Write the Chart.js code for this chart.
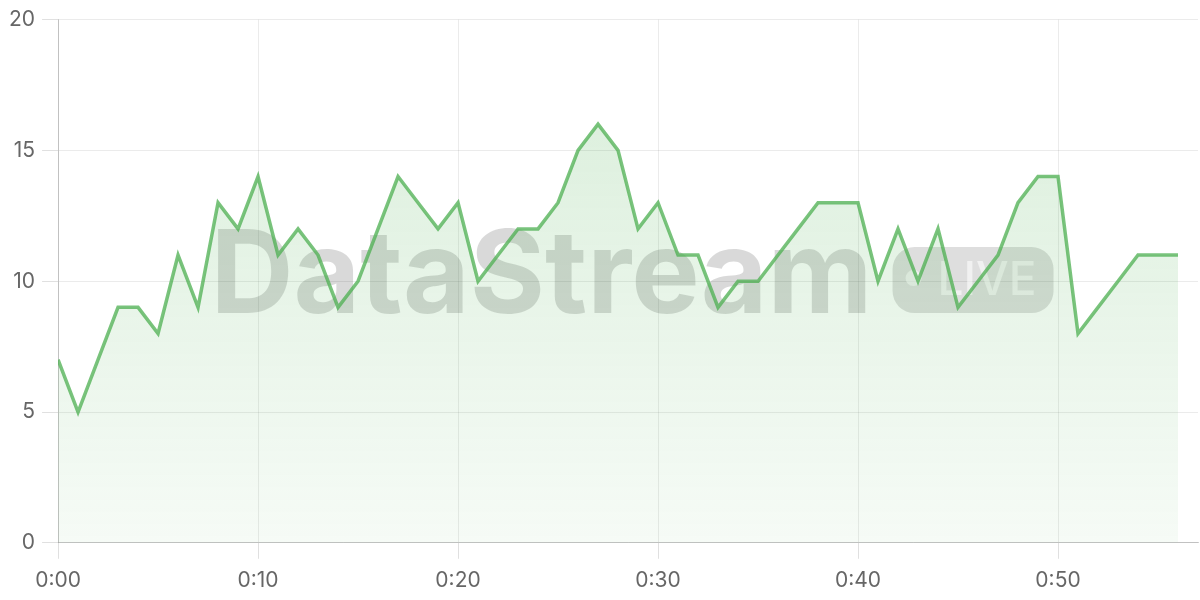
<!DOCTYPE html>
<html>
<head>
<meta charset="utf-8">
<script src="https://cdn.jsdelivr.net/npm/chart.js@4"></script>
<style>
  html, body { margin: 0; padding: 0; background: #fff; }
  #wrap { width: 1200px; height: 600px; }
</style>
</head>
<body>
<div id="wrap"><canvas id="grafico"></canvas></div>
<script>
// minutes since start
var minutos = [0,1,2,3,4,5,6,7,8,9,10,11,12,13,14,15,16,17,18,19,20,21,22,23,24,25,26,27,28,
  29,30,31,32,33,34,35,36,37,38,39,40,41,42,43,44,45,46,47,48,49,50,51,52,53,54,55,56];
var valores = [7,5,7,9,9,8,11,9,13,12,14,11,12,11,9,10,12,14,13,12,13,10,11,12,12,13,15,16,15,
  12,13,11,11,9,10,10,11,12,13,13,13,10,12,10,12,9,10,11,13,14,14,8,9,10,11,11,11];
var ticksY = [0,5,10,15,20];
var ticksX = [0,10,20,30,40,50];

var fuente = 'Inter, "Noto Sans", sans-serif';

// watermark, drawn under the line
var marcaAgua = {
  id: 'marcaAgua',
  beforeDatasetsDraw: function(chart){
    var ctx = chart.ctx, a = chart.chartArea;
    var cx = (a.left + a.right) / 2 + 4;
    var base = a.top + (a.bottom - a.top) * 0.561;
    ctx.save();
    ctx.font = 'bold 115px ' + fuente;
    var txt = 'DataStream';
    var w = ctx.measureText(txt).width;
    var pillW = 161, pillH = 66, gap = 20;
    var total = w + gap + pillW;
    var x0 = cx - total / 2;
    ctx.fillStyle = 'rgba(0,0,0,0.15)';
    ctx.textBaseline = 'alphabetic';
    ctx.fillText(txt, x0, base);
    // pill
    var px = x0 + w + gap, py = base - pillH;
    ctx.fillStyle = 'rgba(0,0,0,0.13)';
    ctx.beginPath();
    ctx.roundRect(px, py, pillW, pillH, 22);
    ctx.fill();
    ctx.fillStyle = 'rgba(255,255,255,0.55)';
    ctx.beginPath();
    ctx.arc(px + 21, py + 31, 8, 0, Math.PI * 2);
    ctx.fill();
    ctx.font = '500 46px ' + fuente;
    ctx.textBaseline = 'middle';
    ctx.fillText('LIVE', px + 45, py + 34);
    ctx.restore();
  }
};

function CrearGrafico(id){
  var ctx = document.getElementById(id).getContext('2d');
  var grad = ctx.createLinearGradient(0, 20, 0, 542);
  grad.addColorStop(0, 'rgba(76,175,80,0.22)');
  grad.addColorStop(1, 'rgba(76,175,80,0.05)');

  return new Chart(ctx, {
    type: 'line',
    data: {
      labels: minutos,
      datasets: [{
        data: valores,
        borderColor: 'rgba(76,175,80,0.75)',
        backgroundColor: grad,
        borderWidth: 3.5,
        fill: true,
        tension: 0,
        pointRadius: 0
      }]
    },
    plugins: [marcaAgua],
    options: {
      responsive: true,
      maintainAspectRatio: false,
      animation: false,
      layout: { padding: { top: 10, right: 2, left: 2, bottom: -3 } },
      plugins: { legend: { display: false }, tooltip: { enabled: false } },
      scales: {
        x: {
          type: 'linear',
          min: 0,
          max: 57,
          afterBuildTicks: function(s){ s.ticks = ticksX.map(function(v){ return { value: v }; }); },
          ticks: {
            color: '#666',
            font: { family: fuente, size: 21 },
            padding: 9.5,
            callback: function(v){ return '0:' + String(v).padStart(2, '0'); }
          },
          grid: { color: 'rgba(0,0,0,0.08)', tickColor: 'rgba(0,0,0,0.12)', tickLength: 16 },
          border: { color: 'rgba(0,0,0,0.18)' }
        },
        y: {
          min: 0,
          max: 20,
          afterBuildTicks: function(s){ s.ticks = ticksY.map(function(v){ return { value: v }; }); },
          ticks: {
            color: '#666',
            font: { family: fuente, size: 21 },
            padding: 7
          },
          grid: { color: 'rgba(0,0,0,0.08)', tickColor: 'rgba(0,0,0,0.12)', tickLength: 16 },
          border: { color: 'rgba(0,0,0,0.18)' }
        }
      }
    }
  });
}

CrearGrafico('grafico');
</script>
</body>
</html>
